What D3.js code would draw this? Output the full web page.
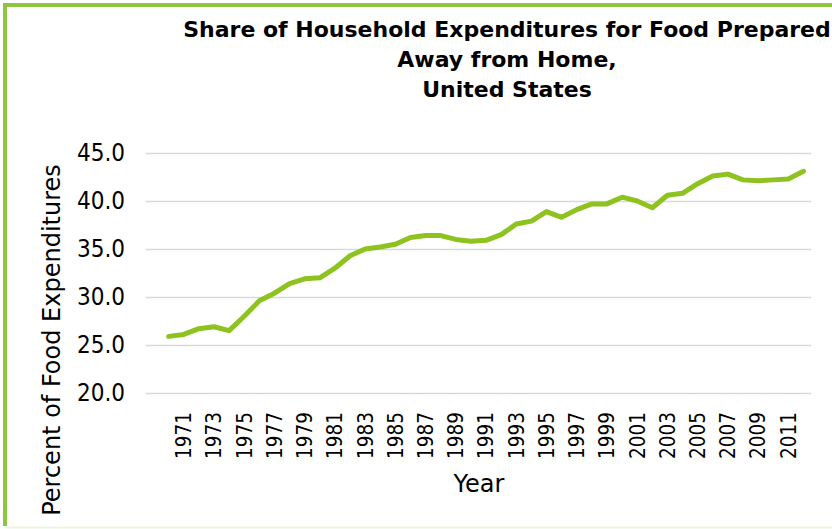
<!DOCTYPE html>
<html>
<head>
<meta charset="utf-8">
<script src="https://cdn.jsdelivr.net/npm/d3@7/dist/d3.min.js"></script>
<style>
  html, body { margin: 0; padding: 0; background: #fff; }
  svg { display: block; }
  text { font-family: "DejaVu Sans Condensed", "DejaVu Sans", sans-serif; fill: #000; }
</style>
</head>
<body>
<svg id="chart" width="832" height="529"></svg>
<script>
// ---- data ----
const categories = ["", "1970", "1971", "1972", "1973", "1974", "1975", "1976", "1977", "1978", "1979",
  "1980", "1981", "1982", "1983", "1984", "1985", "1986", "1987", "1988", "1989",
  "1990", "1991", "1992", "1993", "1994", "1995", "1996", "1997", "1998", "1999",
  "2000", "2001", "2002", "2003", "2004", "2005", "2006", "2007", "2008", "2009",
  "2010", "2011", "2012"];
const years = ["1970", "1971", "1972", "1973", "1974", "1975", "1976", "1977", "1978", "1979",
  "1980", "1981", "1982", "1983", "1984", "1985", "1986", "1987", "1988", "1989",
  "1990", "1991", "1992", "1993", "1994", "1995", "1996", "1997", "1998", "1999",
  "2000", "2001", "2002", "2003", "2004", "2005", "2006", "2007", "2008", "2009",
  "2010", "2011", "2012"];
const shareAwayFromHome = [25.9, 26.1, 26.7, 26.9, 26.5, 28.0, 29.6, 30.4, 31.4, 31.9,
  32.0, 33.0, 34.3, 35.0, 35.2, 35.5, 36.2, 36.4, 36.4, 36.0,
  35.8, 35.9, 36.5, 37.6, 37.9, 38.9, 38.3, 39.1, 39.7, 39.7,
  40.4, 40.0, 39.3, 40.6, 40.8, 41.8, 42.6, 42.8, 42.2, 42.1,
  42.2, 42.3, 43.1];
const xTickLabels = ["1971", "1973", "1975", "1977", "1979", "1981", "1983", "1985", "1987", "1989",
  "1991", "1993", "1995", "1997", "1999", "2001", "2003", "2005", "2007", "2009", "2011"];
const yTicks = [20, 25, 30, 35, 40, 45];
const titleLines = ["Share of Household Expenditures for Food Prepared", "Away from Home,", "United States"];
const xTitle = "Year";
const yTitle = "Percent of Food Expenditures";

// ---- layout ----
const svg = d3.select("#chart");
const plot = { left: 146, right: 811, top: 153, bottom: 393 };
const lineColor = "#8dc21f";

const x = d3.scaleBand().domain(categories).range([plot.left, plot.right]).padding(0);
const y = d3.scaleLinear().domain([20, 45]).range([plot.bottom, plot.top]);
const cx = c => x(c) + x.bandwidth() / 2;

// outer border (green, partly cropped)
svg.append("path")
  .attr("d", `M5,526 V5 H832`)
  .attr("fill", "none")
  .attr("stroke", "#8cc63f")
  .attr("stroke-width", 4);
svg.append("line")
  .attr("x1", 7).attr("x2", 832).attr("y1", 527.5).attr("y2", 527.5)
  .attr("stroke", "#eef5dd").attr("stroke-width", 2);

// gridlines + y labels
const yAxis = d3.axisLeft(y).tickValues(yTicks).tickFormat(d3.format(".1f"))
  .tickSize(-(plot.right - plot.left)).tickPadding(21);
const gy = svg.append("g").attr("transform", `translate(${plot.left},0)`).call(yAxis);
gy.select(".domain").remove();
gy.selectAll(".tick line").attr("stroke", "#d9d9d9").attr("stroke-width", 1.6);
gy.selectAll(".tick text").attr("font-size", 24).attr("fill", "#000");

// x axis labels
const xAxis = d3.axisBottom(x).tickValues(xTickLabels).tickSize(0).tickPadding(0);
const gx = svg.append("g").attr("transform", `translate(0,${plot.bottom})`).call(xAxis);
gx.select(".domain").remove();
gx.selectAll(".tick text")
  .attr("font-size", 20.5)
  .attr("fill", "#000")
  .attr("text-anchor", "end")
  .attr("transform", "translate(0,19) rotate(-90)")
  .attr("x", 0).attr("y", 0).attr("dy", "0.36em");

// line
const line = d3.line().x((d, i) => cx(years[i])).y(d => y(d));
svg.append("path")
  .datum(shareAwayFromHome)
  .attr("d", line)
  .attr("fill", "none")
  .attr("stroke", lineColor)
  .attr("stroke-width", 5)
  .attr("stroke-linejoin", "round")
  .attr("stroke-linecap", "round");

// titles
const t = svg.append("text").attr("text-anchor", "middle").attr("font-weight", "bold")
  .attr("font-size", 22).style("font-family", "'DejaVu Sans', sans-serif");
titleLines.forEach((s, i) => {
  t.append("tspan").attr("x", 507).attr("y", 37 + i * 30).text(s);
});
svg.append("text").attr("x", 479).attr("y", 492).attr("text-anchor", "middle")
  .attr("font-size", 24).style("font-family", "'DejaVu Sans', sans-serif").text(xTitle);
svg.append("text").attr("transform", "translate(60,340) rotate(-90)").attr("text-anchor", "middle")
  .attr("font-size", 24).style("font-family", "'DejaVu Sans', sans-serif").text(yTitle);
</script>
</body>
</html>
